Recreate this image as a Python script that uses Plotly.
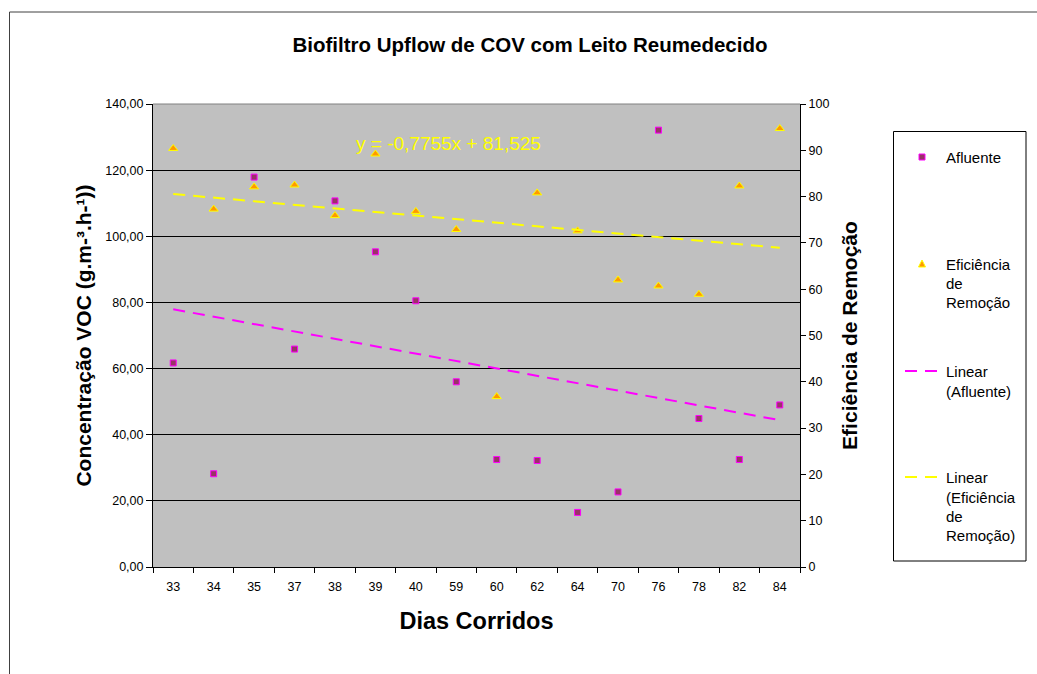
import numpy as np
import plotly.graph_objects as go

# ---------------- data ----------------
dias = ["33", "34", "35", "37", "38", "39", "40", "59", "60", "62", "64", "70", "76", "78", "82", "84"]
afluente = [61.7, 28.2, 117.9, 65.9, 110.7, 95.3, 80.5, 56.0, 32.5, 32.2, 16.5, 22.7, 132.1, 44.9, 32.5, 49.0]
eficiencia = [90.4, 77.3, 82.1, 82.5, 75.9, 89.2, 76.8, 72.9, 36.8, 80.8, 72.6, 62.0, 60.7, 58.9, 82.3, 94.7]
eq_text = "y = -0,7755x + 81,525"
left_ticks = [0, 20, 40, 60, 80, 100, 120, 140]
right_ticks = [0, 10, 20, 30, 40, 50, 60, 70, 80, 90, 100]

# linear trend lines (least squares over the category index, as Excel does)
idx = np.arange(1, len(dias) + 1)
a1, b1 = np.polyfit(idx, afluente, 1)
a2, b2 = np.polyfit(idx, eficiencia, 1)
trend_af = a1 * idx + b1
trend_ef = a2 * idx + b2

# ---------------- layout geometry ----------------
W, H = 1037, 674
ML, MR, MT, MB = 153, 237, 104, 107
PW, PH = W - ML - MR, H - MT - MB

def px(x):
    return (x - ML) / PW

def py(y):
    return (H - MB - y) / PH

FONT = "Liberation Sans, Arial, sans-serif"

fig = go.Figure()

fig.add_trace(go.Scatter(
    x=dias, y=afluente, mode="markers", name="Afluente",
    marker=dict(symbol="square", size=6, color="#993366",
                line=dict(color="#FF00FF", width=1)),
    yaxis="y", showlegend=False))

fig.add_trace(go.Scatter(
    x=dias, y=eficiencia, mode="markers", name="Eficiência de Remoção",
    marker=dict(symbol="triangle-up", size=8, color="#FF9900",
                line=dict(color="#FFFF00", width=1)),
    yaxis="y2", showlegend=False))

fig.add_trace(go.Scatter(
    x=dias, y=trend_af, mode="lines", name="Linear (Afluente)",
    line=dict(color="#FF00FF", width=2, dash="12px,8px"),
    yaxis="y", showlegend=False))

fig.add_trace(go.Scatter(
    x=dias, y=trend_ef, mode="lines", name="Linear (Eficiência de Remoção)",
    line=dict(color="#FFFF00", width=2, dash="12px,8px"),
    yaxis="y2", showlegend=False))

shapes = []
annotations = []

# outer chart border (left and top)
shapes.append(dict(type="line", xref="paper", yref="paper",
                   x0=px(9.5), x1=px(W + 5), y0=py(12), y1=py(12),
                   line=dict(color="#404040", width=1)))
shapes.append(dict(type="line", xref="paper", yref="paper",
                   x0=px(9.5), x1=px(9.5), y0=py(12), y1=py(H + 5),
                   line=dict(color="#404040", width=1)))
# plot area top border (grey)
shapes.append(dict(type="line", xref="paper", yref="paper",
                   x0=0, x1=1, y0=1, y1=1,
                   line=dict(color="#808080", width=1)))

# legend box
shapes.append(dict(type="rect", xref="paper", yref="paper",
                   x0=px(893.5), x1=px(1026), y0=py(131.5), y1=py(561),
                   line=dict(color="#000000", width=1), fillcolor="white",
                   layer="below"))
# legend keys
mx = 922
shapes.append(dict(type="rect", xref="paper", yref="paper",
                   x0=px(mx - 3), x1=px(mx + 3), y0=py(157 + 3), y1=py(157 - 3),
                   line=dict(color="#FF00FF", width=1), fillcolor="#993366"))
ty = 264
shapes.append(dict(type="path", xref="paper", yref="paper",
                   path="M {} {} L {} {} L {} {} Z".format(
                       px(mx - 3.5), py(ty + 3), px(mx + 3.5), py(ty + 3), px(mx), py(ty - 4)),
                   line=dict(color="#FFFF00", width=1), fillcolor="#FF9900"))
for yk, col in [(371, "#FF00FF"), (477, "#FFFF00")]:
    shapes.append(dict(type="line", xref="paper", yref="paper",
                       x0=px(905), x1=px(940), y0=py(yk), y1=py(yk),
                       line=dict(color=col, width=2, dash="12px,8px")))

legend_lines = [
    ("Afluente", 157),
    ("Eficiência", 264), ("de", 283), ("Remoção", 302),
    ("Linear", 371), ("(Afluente)", 391),
    ("Linear", 477), ("(Eficiência", 497), ("de", 516), ("Remoção)", 535),
]
for txt, yy in legend_lines:
    annotations.append(dict(text=txt, xref="paper", yref="paper",
                            x=px(944), y=py(yy), xanchor="left", yanchor="middle",
                            showarrow=False, font=dict(family=FONT, size=15, color="black")))

# trend equation
annotations.append(dict(text=eq_text, xref="paper", yref="paper",
                        x=px(448.5), y=py(143), xanchor="center", yanchor="middle",
                        showarrow=False, font=dict(family=FONT, size=19, color="#FFFF00")))

fig.update_layout(
    width=W, height=H,
    margin=dict(l=ML, r=MR, t=MT, b=MB, autoexpand=False),
    paper_bgcolor="white",
    plot_bgcolor="#C0C0C0",
    separators=", ",
    font=dict(family=FONT, color="black", size=12),
    title=dict(text="<b>Biofiltro Upflow de COV com Leito Reumedecido</b>",
               x=530 / W, xanchor="center", xref="container",
               y=1 - 45 / H, yanchor="middle", yref="container",
               font=dict(family=FONT, size=20.5, color="black")),
    xaxis=dict(
        type="category", categoryorder="array", categoryarray=dias,
        range=[-0.5, len(dias) - 0.5],
        tickson="boundaries", ticks="outside", ticklen=5, tickcolor="black",
        showline=True, linecolor="black", linewidth=1,
        showgrid=False, zeroline=False,
        tickfont=dict(family=FONT, size=12.5, color="black"),
        ticklabelstandoff=8,
        title=dict(text="<b>Dias Corridos</b>", standoff=19,
                   font=dict(family=FONT, size=23.5, color="black")),
    ),
    yaxis=dict(
        range=[0, 140], tickvals=left_ticks, tickformat=".2f",
        ticks="outside", ticklen=6, tickcolor="black",
        showline=True, linecolor="black", linewidth=1,
        showgrid=True, gridcolor="black", gridwidth=1, zeroline=False,
        tickfont=dict(family=FONT, size=12.5, color="black"),
        title=dict(text="<b>Concentração VOC (g.m-³.h-¹))</b>", standoff=7,
                   font=dict(family=FONT, size=21, color="black")),
    ),
    yaxis2=dict(
        overlaying="y", side="right", anchor="x",
        range=[0, 100], tickvals=right_ticks,
        ticks="outside", ticklen=5, tickcolor="black",
        showline=True, linecolor="black", linewidth=1,
        showgrid=False, zeroline=False,
        tickfont=dict(family=FONT, size=12.5, color="black"),
        title=dict(text="<b>Eficiência de Remoção</b>", standoff=13,
                   font=dict(family=FONT, size=21, color="black")),
    ),
    shapes=shapes,
    annotations=annotations,
)

fig.write_html("out.html")
